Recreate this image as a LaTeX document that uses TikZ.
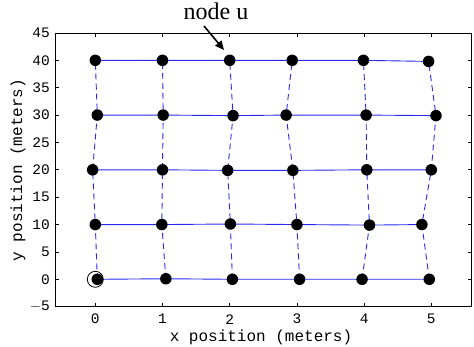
\documentclass[tikz,border=0pt]{standalone}
\usepackage{fontspec}
\setmainfont{Liberation Serif}
\setmonofont{Liberation Mono}
\usetikzlibrary{arrows.meta}
\definecolor{mblue}{RGB}{40,40,240}
\tikzset{
  dot/.style={circle,fill=black,inner sep=0pt,minimum size=11.5pt},
  hline/.style={mblue,line width=0.9pt},
  vline/.style={mblue,line width=0.9pt,dash pattern=on 6pt off 4pt},
  axisline/.style={black,line width=0.9pt},
  tick/.style={black,line width=0.8pt},
  ticklab/.style={font=\fontsize{14.5}{15}\ttfamily,inner sep=0pt},
  axlab/.style={font=\fontsize{16}{17}\ttfamily,inner sep=0pt},
}
\begin{document}
\begin{tikzpicture}[x=1pt,y=1pt]
\useasboundingbox (0,0) rectangle (474,347);
\begin{scope}[shift={(95.3,67.7)},x=67.2pt,y=5.474pt]
  % axes box
  \coordinate (bl) at (-0.6,-5);
  \coordinate (tr) at (5.6,45);
  \draw[axisline] (bl) rectangle (tr);
  % x ticks
  \foreach \i in {0,...,5}{
    \draw[tick] (\i,-5) -- ++(0,4pt);
    \draw[tick] (\i,45) -- ++(0,-4pt);
    \node[ticklab,anchor=center] (xt\i) at ([yshift=-12.5pt]\i,-5) {\i};
  }
  % y ticks
  \foreach \v/\t in {-5/$-$5,0/0,5/5,10/10,15/15,20/20,25/25,30/30,35/35,40/40,45/45}{
    \draw[tick] (-0.6,\v) -- ++(4pt,0);
    \draw[tick] (5.6,\v) -- ++(-4pt,0);
    \node[ticklab,anchor=east] (yt\v) at ([xshift=-5pt]-0.6,\v) {\t};
  }
  % node coordinates
  \foreach \r/\a/\b/\c/\d/\e/\f/\ya/\yb/\yc/\yd/\ye/\yf in {
     4/0/1/2/2.93/3.99/4.96/40/40/40/40/40/39.8,
     3/0.03/1.01/2.05/2.84/4.03/5.07/30/30/29.9/30/30/29.9,
     2/-0.04/1.0/1.97/2.94/4.04/5.0/20/20/19.9/19.9/20/20,
     1/0/0.99/2.01/3.0/4.08/4.86/10/10/10.1/10/9.9/10,
     0/0.03/1.05/2.04/3.04/3.97/4.97/0/0.1/0/0/0/0}{
    \coordinate (p\r0) at (\a,\ya);
    \coordinate (p\r1) at (\b,\yb);
    \coordinate (p\r2) at (\c,\yc);
    \coordinate (p\r3) at (\d,\yd);
    \coordinate (p\r4) at (\e,\ye);
    \coordinate (p\r5) at (\f,\yf);
  }
  % horizontal solid lines
  \foreach \r in {0,...,4}{
    \draw[hline] (p\r0) -- (p\r1) -- (p\r2) -- (p\r3) -- (p\r4) -- (p\r5);
  }
  % vertical dashed lines
  \foreach \c in {0,...,5}{
    \draw[vline] (p0\c) -- (p1\c) -- (p2\c) -- (p3\c) -- (p4\c);
  }
  % dots
  \foreach \r in {0,...,4}{
    \foreach \c in {0,...,5}{
      \node[dot] (d\r\c) at (p\r\c) {};
    }
  }
  % ring around origin
  \coordinate (orig) at (0,0);
  \node[circle,draw=black,line width=0.8pt,inner sep=0pt,minimum size=16pt] (ring) at (orig) {};
\end{scope}
% axis labels
\node[axlab] (xlab) at (261,10) {x position (meters)};
\node[axlab,rotate=90] (ylab) at (18,177) {y position (meters)};
% node u annotation
\node[font=\fontsize{24}{26}\selectfont,inner sep=0pt,anchor=base] (ulab) at (216,327) {node u};
\coordinate (utail) at (204,321);
\coordinate (utip) at (224,297);
\draw[black,line width=1.6pt,-{Triangle[length=9pt,width=8pt]}] (utail) -- (utip);
\end{tikzpicture}
\end{document}
